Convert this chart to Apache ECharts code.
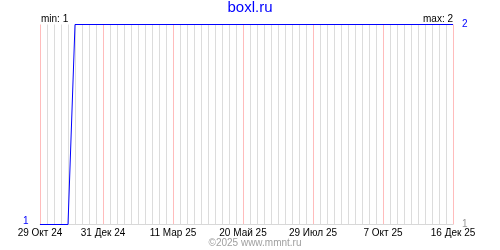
<!DOCTYPE html>
<html><head><meta charset="utf-8">
<script src="https://cdn.jsdelivr.net/npm/echarts@6/dist/echarts.min.js"></script>
<style>html,body{margin:0;padding:0;background:#fff}#c{width:500px;height:250px}</style>
</head><body><div id="c"></div>
<script>
const startDate = '2024-10-29';
const endDate = '2025-12-16';
const pointDates = ['2024-10-29', '2024-11-26', '2024-12-03', '2025-12-16'];
const pointValues = [1, 1, 2, 2];
const tickDates = ['2024-10-29','2024-12-31','2025-03-11','2025-05-20','2025-07-29','2025-10-07','2025-12-16'];
const tickLabels = ['29 Окт 24','31 Дек 24','11 Мар 25','20 Май 25','29 Июл 25','7 Окт 25','16 Дек 25'];
const titleText = 'boxl.ru';
const footerText = '©2025 www.mmnt.ru';
const minText = 'min: 1';
const maxText = 'max: 2';

function dayOf(s){const p=s.split('-').map(Number);const q=startDate.split('-').map(Number);
  return Math.round((Date.UTC(p[0],p[1]-1,p[2])-Date.UTC(q[0],q[1]-1,q[2]))/86400000);}
const labelMap = {};
tickDates.forEach((d,i)=>{labelMap[dayOf(d)] = tickLabels[i];});
const seriesData = pointDates.map((d,i)=>[dayOf(d), pointValues[i]]);
const endDay = dayOf(endDate);
const STEP = 7;
const splitColors = [];
for (let v = 0; v <= endDay; v += STEP) splitColors.push(labelMap[v] ? '#ffbcbc' : '#dcdcdc');

const chart = echarts.init(document.getElementById('c'), null, {renderer:'canvas'});
const font = 'Liberation Sans, Arial, sans-serif';
chart.setOption({
  animation:false,
  grid:{left:40, right:47, top:24.5, bottom:25.5, containLabel:false},
  xAxis:{type:'value', min:0, max:endDay, interval:STEP,
    axisLine:{show:true, lineStyle:{color:'#d8d8d8', width:1}},
    axisTick:{show:false},
    axisLabel:{show:true, margin:4, color:'#000', fontFamily:font, fontSize:10,
      formatter:v=>labelMap[v]||'', showMinLabel:true, showMaxLabel:true},
    splitLine:{show:true, showMinLine:true, showMaxLine:true, lineStyle:{color:splitColors, width:1}}
  },
  yAxis:{type:'value', min:1, max:2, show:false, splitLine:{show:false}},
  series:[
    {type:'line', data:seriesData, z:12, symbol:'none', silent:true,
     lineStyle:{color:'#0000ff', width:1}}
  ],
  graphic:[
    {type:'text', left:'center', top:0, style:{text:titleText, fill:'#0000ff', font:'15px '+font}},
    {type:'text', x:41, y:14, style:{text:minText, fill:'#000', font:'10px '+font}},
    {type:'text', x:453, y:14, style:{text:maxText, fill:'#000', font:'10px '+font, textAlign:'right'}},
    {type:'text', x:462, y:19, style:{text:'2', fill:'#0000ff', font:'10px '+font}},
    {type:'text', x:23, y:216, style:{text:'1', fill:'#0000ff', font:'10px '+font}},
    {type:'text', x:462, y:219, style:{text:'1', fill:'#999', font:'10px '+font}},
    {type:'text', x:255, y:238, style:{text:footerText, fill:'#a0a0a0', font:'10px '+font, textAlign:'center'}}
  ]
});
</script></body></html>
